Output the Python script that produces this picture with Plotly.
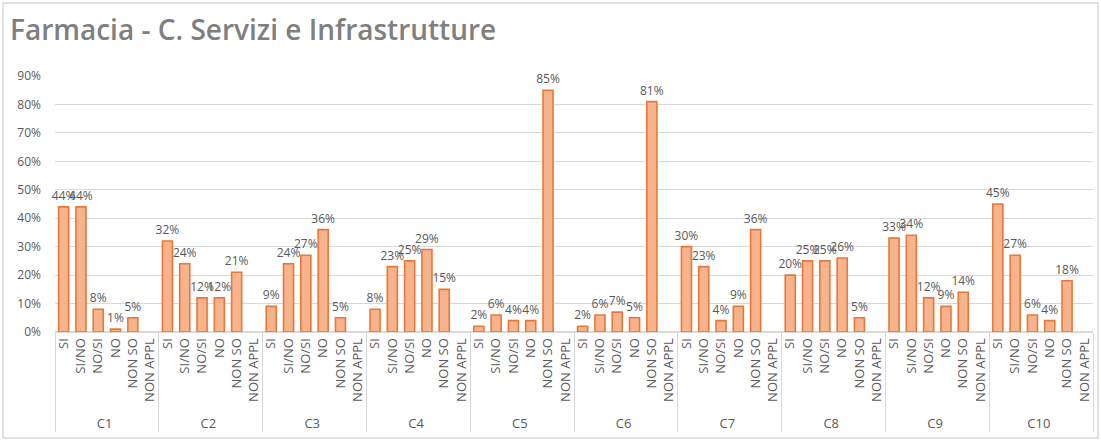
import plotly.graph_objects as go

groups = ["C1", "C2", "C3", "C4", "C5", "C6", "C7", "C8", "C9", "C10"]
answers = ["SI", "SI/NO", "NO/SI", "NO", "NON SO", "NON APPL"]
values = {
    "C1": [0.44, 0.44, 0.08, 0.01, 0.05, None],
    "C2": [0.32, 0.24, 0.12, 0.12, 0.21, None],
    "C3": [0.09, 0.24, 0.27, 0.36, 0.05, None],
    "C4": [0.08, 0.23, 0.25, 0.29, 0.15, None],
    "C5": [0.02, 0.06, 0.04, 0.04, 0.85, None],
    "C6": [0.02, 0.06, 0.07, 0.05, 0.81, None],
    "C7": [0.30, 0.23, 0.04, 0.09, 0.36, None],
    "C8": [0.20, 0.25, 0.25, 0.26, 0.05, None],
    "C9": [0.33, 0.34, 0.12, 0.09, 0.14, None],
    "C10": [0.45, 0.27, 0.06, 0.04, 0.18, None],
}
title = "Farmacia - C. Servizi e Infrastrutture"

xg, xc, yv, tx = [], [], [], []
for g in groups:
    for a, v in zip(answers, values[g]):
        xg.append(g)
        xc.append(a)
        yv.append(v)
        tx.append("" if v is None else f"{round(v*100)}%")

fig = go.Figure(go.Bar(
    x=[xg, xc], y=yv, text=tx, textposition="outside", constraintext="none",
    textfont=dict(color="#595959", size=12, family="Open Sans"),
    marker=dict(color="#F7B38C", line=dict(color="#E8783A", width=1.6)),
    cliponaxis=False,
))

grid = "#D9D9D9"
W, H = 1101, 441
L, R, T, B = 55, 8, 76, 109
fig.update_layout(
    width=W, height=H,
    margin=dict(l=L, r=R, t=T, b=B, autoexpand=False),
    paper_bgcolor="white", plot_bgcolor="white",
    bargap=0.42,
    showlegend=False,
    font=dict(family="Open Sans", color="#595959", size=11),
    title=dict(text=title, x=10 / W, xanchor="left", y=1 - 30 / H, yanchor="middle",
               font=dict(family="Open Sans", size=28, color="#7F7F7F", weight=600)),
)
fig.update_yaxes(range=[0, 0.9], dtick=0.1, tickformat=".0%", gridcolor=grid,
                 zeroline=True, zerolinecolor=grid, showline=False, automargin=False,
                 tickfont=dict(size=12, color="#595959"), ticks="", ticklabelstandoff=13)
fig.update_xaxes(tickangle=-90, showline=True, linecolor=grid, showdividers=True,
                 dividercolor=grid, dividerwidth=1, ticks="", automargin=False,
                 tickfont=dict(size=13, color="#595959"))
pw = W - L - R
ph = H - T - B
fig.add_shape(type="rect", xref="paper", yref="paper",
              x0=(3 - L) / pw, x1=(1098 - L) / pw,
              y0=-(438 - (H - B)) / ph, y1=((H - B) - 3) / ph,
              line=dict(color="#D9D9D9", width=1.5))
fig.write_html("out.html", config={"displayModeBar": False},
               post_script="document.body.style.margin='0';")
